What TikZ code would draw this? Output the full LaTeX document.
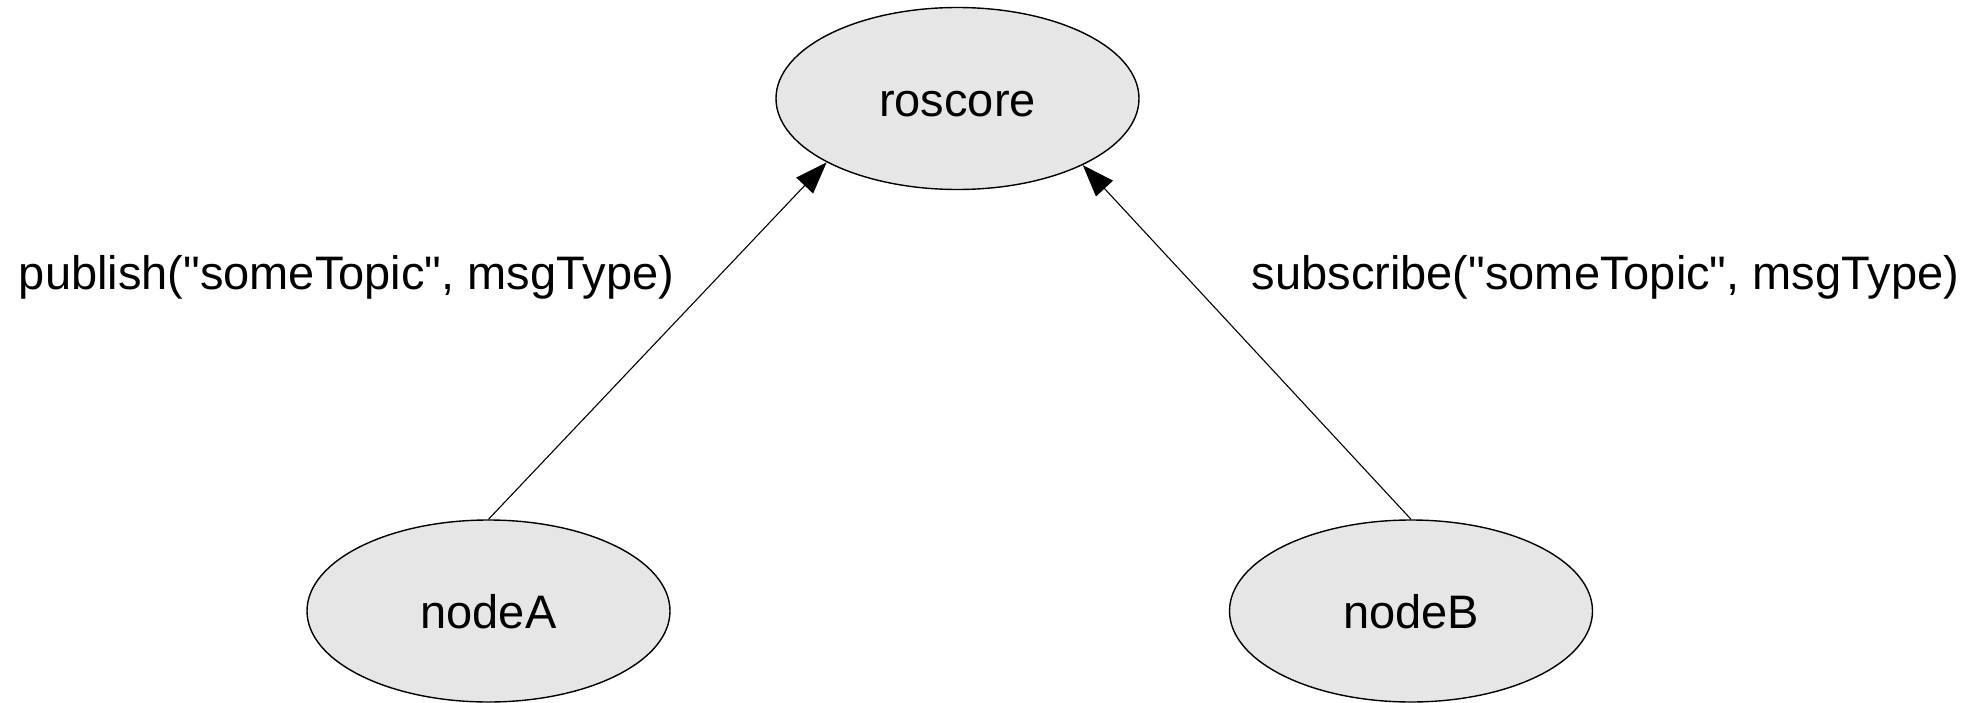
\documentclass[tikz,border=0pt]{standalone}
\usepackage{fontspec}
\newfontfamily\arial{Liberation Sans}
\usetikzlibrary{shapes.geometric,arrows.meta}
\definecolor{nodefill}{RGB}{230,230,230}
\tikzset{
  rosnode/.style={ellipse, draw=black, line width=0.7pt, fill=nodefill,
    minimum width=181.5pt, minimum height=91pt, inner sep=0pt,
    text height=17.5pt, text depth=0pt,
    font=\arial\fontsize{23.5}{28}\selectfont},
  calllabel/.style={anchor=base, inner sep=0pt, font=\arial\fontsize{23.5}{28}\selectfont},
  callarrow/.style={line width=0.55pt, -{Triangle[length=16pt,width=11.5pt]}}
}
\begin{document}
\begin{tikzpicture}[x=0.5pt, y=-0.5pt]
  \useasboundingbox (0,0) rectangle (1988,702);
  \node[rosnode] (roscore) at (957.5,98.5) {roscore};
  \node[rosnode] (nodeA) at (488.5,611) {nodeA};
  \node[rosnode] (nodeB) at (1411,611) {nodeB};
  \node[calllabel] (pub) at (346.5,289) {publish("someTopic", msgType)};
  \node[calllabel] (sub) at (1605.5,289) {subscribe("someTopic", msgType)};
  \draw[callarrow] (nodeA.north) -- (roscore.206.7);
  \draw[callarrow] (nodeB.north) -- (roscore.332.6);
\end{tikzpicture}
\end{document}
